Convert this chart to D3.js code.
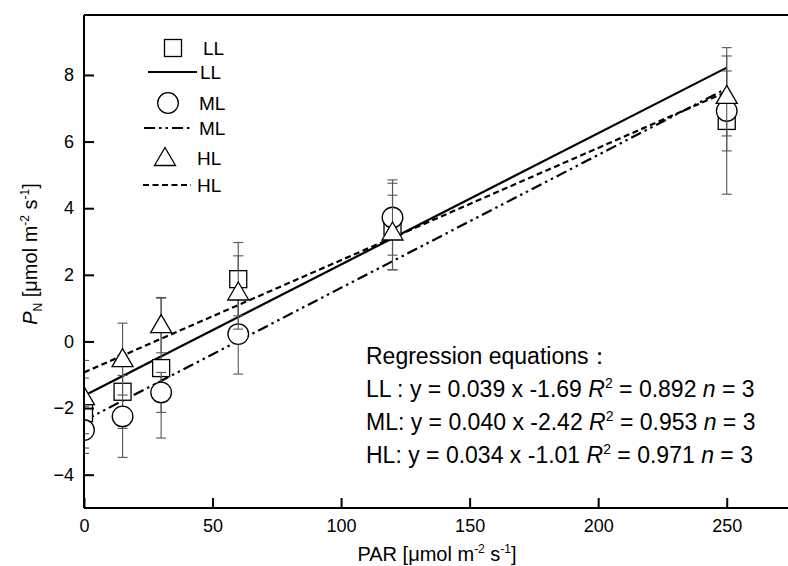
<!DOCTYPE html>
<html>
<head>
<meta charset="utf-8">
<script src="https://cdn.jsdelivr.net/npm/d3@7/dist/d3.min.js"></script>
<style>
  html, body { margin: 0; padding: 0; background: #fff; }
  svg { display: block; font-family: "Liberation Sans", Arial, sans-serif; }
</style>
</head>
<body>
<svg id="chart" width="788" height="566"></svg>
<script>
// ---- data ----
const par = [0, 15, 30, 60, 120, 250];
const llMean = [-2.15, -1.51, -0.80, 1.87, 3.45, 6.62];
const llErr  = [1.05, 1.10, 2.10, 1.10, 1.30, 2.20];
const mlMean = [-2.66, -2.25, -1.53, 0.22, 3.72, 6.92];
const mlErr  = [0.70, 1.23, 0.60, 1.20, 1.13, 1.20];
const hlMean = [-1.67, -0.53, 0.49, 1.47, 3.27, 7.37];
const hlErr  = [1.10, 1.08, 0.83, 1.10, 1.12, 1.20];
const seriesNames = ["LL", "ML", "HL"];
const regSlope = [0.0394, 0.0399, 0.0337];
const regIntercept = [-1.63, -2.38, -0.93];
const regRange = [0, 250];
const xTicks = [0, 50, 100, 150, 200, 250];
const yTicks = [-4, -2, 0, 2, 4, 6, 8];
const equations = [
  {name: "LL :", slope: "0.039", icpt: "-1.69", r2: "0.892", n: "3"},
  {name: "ML:", slope: "0.040", icpt: "-2.42", r2: "0.953", n: "3"},
  {name: "HL:", slope: "0.034", icpt: "-1.01", r2: "0.971", n: "3"}
];

// ---- layout ----
const svg = d3.select("#chart");
const L = 84, T = 15, R = 791, B = 508;
const x = d3.scaleLinear().domain([0, 275]).range([L, R]);
const y = d3.scaleLinear().domain([-5, 9.8]).range([B, T]);

svg.append("defs").append("clipPath").attr("id", "clip")
  .append("rect").attr("x", L).attr("y", T).attr("width", R - L).attr("height", B - T);

const dashes = {LL: null, ML: "11,4,2.5,4,2.5,4", HL: "6,3.5"};
const series = [
  {name: "LL", mean: llMean, err: llErr, sym: "square"},
  {name: "ML", mean: mlMean, err: mlErr, sym: "circle"},
  {name: "HL", mean: hlMean, err: hlErr, sym: "triangle"}
];

const plot = svg.append("g").attr("clip-path", "url(#clip)");

// regression lines
seriesNames.forEach((nm, i) => {
  const line = d3.line().x(d => x(d)).y(d => y(regSlope[i] * d + regIntercept[i]));
  plot.append("path").datum(regRange)
    .attr("d", line).attr("fill", "none").attr("stroke", "#000")
    .attr("stroke-width", 2.2)
    .attr("stroke-dasharray", dashes[nm]);
});

function drawSymbol(g, type, cx, cy) {
  if (type === "square") {
    g.append("rect").attr("x", cx - 8.5).attr("y", cy - 8.5).attr("width", 17).attr("height", 17)
      .attr("fill", "#fff").attr("stroke", "#000").attr("stroke-width", 1.3);
  } else if (type === "circle") {
    g.append("circle").attr("cx", cx).attr("cy", cy).attr("r", 10.3)
      .attr("fill", "#fff").attr("stroke", "#000").attr("stroke-width", 1.3);
  } else {
    g.append("path").attr("d", `M${cx},${cy - 10.5}L${cx + 10.5},${cy + 7.5}L${cx - 10.5},${cy + 7.5}Z`)
      .attr("fill", "#fff").attr("stroke", "#000").attr("stroke-width", 1.3);
  }
}

// error bars + symbols, series by series
series.forEach(s => {
  const g = plot.append("g");
  par.forEach((p, i) => {
    const cx = x(p), top = y(s.mean[i] + s.err[i]), bot = y(s.mean[i] - s.err[i]);
    g.append("line").attr("x1", cx).attr("x2", cx).attr("y1", top).attr("y2", bot)
      .attr("stroke", "#555").attr("stroke-width", 1.1);
    [top, bot].forEach(yy => g.append("line").attr("x1", cx - 5).attr("x2", cx + 5)
      .attr("y1", yy).attr("y2", yy).attr("stroke", "#555").attr("stroke-width", 1.1));
  });
  par.forEach((p, i) => drawSymbol(g, s.sym, x(p), y(s.mean[i])));
});

// axes frame
svg.append("line").attr("x1", L).attr("x2", R).attr("y1", T).attr("y2", T).attr("stroke", "#000").attr("stroke-width", 2);
svg.append("line").attr("x1", L).attr("x2", R).attr("y1", B).attr("y2", B).attr("stroke", "#000").attr("stroke-width", 2);
svg.append("line").attr("x1", L).attr("x2", L).attr("y1", T).attr("y2", B).attr("stroke", "#000").attr("stroke-width", 2);
svg.append("line").attr("x1", R).attr("x2", R).attr("y1", T).attr("y2", B).attr("stroke", "#000").attr("stroke-width", 2);

const xAxis = d3.axisBottom(x).tickValues(xTicks).tickSizeInner(-10).tickSizeOuter(0).tickPadding(11);
const gx = svg.append("g").attr("transform", `translate(0,${B})`).call(xAxis);
const yAxis = d3.axisLeft(y).tickValues(yTicks).tickSizeInner(-10).tickSizeOuter(0).tickPadding(10);
const gy = svg.append("g").attr("transform", `translate(${L},0)`).call(yAxis);
[gx, gy].forEach(g => {
  g.select(".domain").remove();
  g.selectAll(".tick line").attr("stroke", "#000").attr("stroke-width", 2);
  g.selectAll("text").attr("font-size", 18).attr("fill", "#000")
    .attr("font-family", "Liberation Sans, Arial, sans-serif");
});

// axis titles
const xt = svg.append("text").attr("x", 437).attr("y", 561).attr("text-anchor", "middle")
  .attr("font-size", 20).attr("fill", "#000");
xt.append("tspan").text("PAR [μmol m");
xt.append("tspan").attr("dy", -8).attr("font-size", 12).text("-2");
xt.append("tspan").attr("dy", 8).text(" s");
xt.append("tspan").attr("dy", -8).attr("font-size", 12).text("-1");
xt.append("tspan").attr("dy", 8).text("]");

const yt = svg.append("text").attr("transform", "translate(37,254) rotate(-90)")
  .attr("text-anchor", "middle").attr("font-size", 20).attr("fill", "#000");
yt.append("tspan").attr("font-style", "italic").text("P");
yt.append("tspan").attr("dy", 5).attr("font-size", 12).text("N");
yt.append("tspan").attr("dy", -5).text(" [μmol m");
yt.append("tspan").attr("dy", -8).attr("font-size", 12).text("-2");
yt.append("tspan").attr("dy", 8).text(" s");
yt.append("tspan").attr("dy", -8).attr("font-size", 12).text("-1");
yt.append("tspan").attr("dy", 8).text("]");

// legend
const lg = svg.append("g");
const legRows = [
  {kind: "sym", sym: "square", label: "LL", sx: 173, tx: 203, y: 48},
  {kind: "line", dash: dashes.LL, label: "LL", x1: 148, x2: 197, tx: 200, y: 72},
  {kind: "sym", sym: "circle", label: "ML", sx: 168, tx: 199, y: 103},
  {kind: "line", dash: dashes.ML, label: "ML", x1: 144, x2: 190, tx: 199, y: 128},
  {kind: "sym", sym: "triangle", label: "HL", sx: 165, tx: 197, y: 158},
  {kind: "line", dash: dashes.HL, label: "HL", x1: 143, x2: 191, tx: 197, y: 185}
];
legRows.forEach(r => {
  if (r.kind === "sym") drawSymbol(lg, r.sym, r.sx, r.y);
  else lg.append("line").attr("x1", r.x1).attr("x2", r.x2).attr("y1", r.y).attr("y2", r.y)
    .attr("stroke", "#000").attr("stroke-width", 2.2).attr("stroke-dasharray", r.dash);
  lg.append("text").attr("x", r.tx).attr("y", r.y + 7)
    .attr("font-size", 19).attr("fill", "#000").text(r.label);
});

// regression equations
const eqX = 366;
svg.append("text").attr("x", eqX).attr("y", 364).attr("font-size", 23).attr("fill", "#000")
  .text("Regression equations：");
equations.forEach((e, i) => {
  const t = svg.append("text").attr("x", eqX).attr("y", 397 + i * 33).attr("font-size", 23).attr("fill", "#000");
  t.append("tspan").text(`${e.name} y = ${e.slope} x ${e.icpt} `);
  t.append("tspan").attr("font-style", "italic").text("R");
  t.append("tspan").attr("dy", -9).attr("font-size", 14).text("2");
  t.append("tspan").attr("dy", 9).text(` = ${e.r2} `);
  t.append("tspan").attr("font-style", "italic").text("n");
  t.append("tspan").text(` = ${e.n}`);
});
</script>
</body>
</html>
